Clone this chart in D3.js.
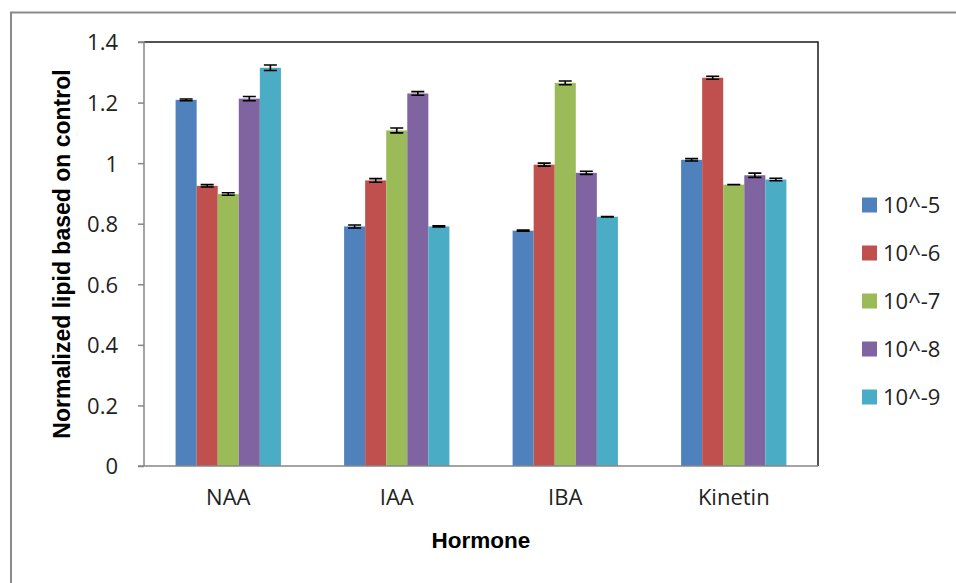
<!DOCTYPE html>
<html><head><meta charset="utf-8">
<script src="https://cdn.jsdelivr.net/npm/d3@7"></script>
<style>
html,body{margin:0;padding:0;background:#fff;}
svg{display:block;}
</style></head>
<body>
<script>
const categories = ["NAA", "IAA", "IBA", "Kinetin"];
const seriesNames = ["10^-5", "10^-6", "10^-7", "10^-8", "10^-9"];
const colors = ["#4F81BD", "#C0504D", "#9BBB59", "#8064A2", "#4BACC6"];
// values per series (rows) across categories (columns)
const s5 = [1.209, 0.791, 0.777, 1.011];
const s6 = [0.925, 0.943, 0.995, 1.282];
const s7 = [0.898, 1.108, 1.265, 0.929];
const s8 = [1.213, 1.230, 0.968, 0.960];
const s9 = [1.315, 0.791, 0.823, 0.946];
// error half-widths
const e5 = [0.003, 0.005, 0.002, 0.004];
const e6 = [0.004, 0.006, 0.005, 0.005];
const e7 = [0.004, 0.008, 0.006, 0.000];
const e8 = [0.007, 0.006, 0.005, 0.007];
const e9 = [0.009, 0.002, 0.001, 0.004];
const yTicks = [0, 0.2, 0.4, 0.6, 0.8, 1, 1.2, 1.4];
const yTitle = "Normalized lipid based on control";
const xTitle = "Hormone";

const values = [s5, s6, s7, s8, s9];
const errors = [e5, e6, e7, e8, e9];

const W = 956, H = 583;
const m = {left: 144, right: 818, top: 42, bottom: 466};

const svg = d3.select("body").append("svg").attr("width", W).attr("height", H);

// outer frame
svg.append("path").attr("d", `M11,${H+5} L11,12.5 L${W+5},12.5`)
  .attr("fill", "none").attr("stroke", "#8a8a8a").attr("stroke-width", 2);

const x0 = d3.scaleBand().domain(categories).range([m.left, m.right]).paddingInner(0).paddingOuter(0);
const groupW = x0.bandwidth();
const barW = groupW / 8;
const x1 = d3.scaleBand().domain(seriesNames).range([1.5 * barW, 6.5 * barW]).padding(0);
const y = d3.scaleLinear().domain([0, 1.4]).range([m.bottom, m.top]);

// plot border top/right
svg.append("path").attr("d", `M${m.left},${m.top} L${m.right},${m.top} L${m.right},${m.bottom}`)
  .attr("fill", "none").attr("stroke", "#1a1a1a").attr("stroke-width", 1.5);

// bars
const data = [];
seriesNames.forEach((s, i) => categories.forEach((c, j) => data.push({s, c, v: values[i][j], e: errors[i][j], color: colors[i]})));

svg.append("g").selectAll("rect").data(data).join("rect")
  .attr("x", d => x0(d.c) + x1(d.s))
  .attr("y", d => y(d.v))
  .attr("width", x1.bandwidth())
  .attr("height", d => y(0) - y(d.v))
  .attr("fill", d => d.color);

// error bars
const eg = svg.append("g").attr("stroke", "#000").attr("stroke-width", 1.6).attr("fill", "none");
const cap = 6.5;
data.forEach(d => {
  const cx = x0(d.c) + x1(d.s) + x1.bandwidth() / 2;
  const yt = y(d.v + d.e), yb = y(d.v - d.e);
  eg.append("path").attr("d", `M${cx - cap},${yt} H${cx + cap} M${cx},${yt} V${yb} M${cx - cap},${yb} H${cx + cap}`);
});

// y axis
const yAxis = d3.axisLeft(y).tickValues(yTicks).tickSize(6).tickPadding(20)
  .tickFormat(d => d3.format("")(+d.toFixed(1)));
const ya = svg.append("g").attr("transform", `translate(${m.left},0)`).call(yAxis);
ya.select(".domain").attr("stroke", "#868686").attr("stroke-width", 1.5).attr("d", `M-6,${m.top}H0V${m.bottom}`);
ya.selectAll(".tick line").attr("stroke", "#868686").attr("stroke-width", 1.5);
ya.selectAll(".tick text").attr("font-family", "Open Sans").attr("font-size", 22).attr("fill", "#222").attr("dy", "0.36em");

// x axis
const xAxis = d3.axisBottom(x0).tickSize(0).tickPadding(23);
const xa = svg.append("g").attr("transform", `translate(0,${m.bottom})`).call(xAxis);
xa.select(".domain").attr("stroke", "#868686").attr("stroke-width", 1.5).attr("d", `M${m.left - 6},0H${m.right}`);
xa.selectAll(".tick text").attr("font-family", "Open Sans").attr("font-size", 22).attr("fill", "#222").attr("dy", "0.71em");

// titles
svg.append("text").attr("x", (m.left + m.right) / 2).attr("y", 548)
  .attr("text-anchor", "middle").attr("font-family", "Liberation Sans").attr("font-weight", "bold")
  .attr("font-size", 22.5).attr("fill", "#000").text(xTitle);
svg.append("text").attr("transform", `translate(70,${(m.top + m.bottom) / 2}) rotate(-90)`)
  .attr("text-anchor", "middle").attr("font-family", "Liberation Sans").attr("font-weight", "bold")
  .attr("font-size", 23).attr("fill", "#000").text(yTitle);

// legend
const leg = svg.append("g").attr("transform", "translate(862,205)");
seriesNames.forEach((s, i) => {
  const g = leg.append("g").attr("transform", `translate(0,${i * 48})`);
  g.append("rect").attr("x", 0).attr("y", -7.5).attr("width", 15).attr("height", 15).attr("fill", colors[i]);
  g.append("text").attr("x", 21).attr("y", 0).attr("dy", "0.36em").attr("font-family", "Open Sans")
    .attr("font-size", 22).attr("fill", "#222").text(s);
});
</script>
</body></html>
